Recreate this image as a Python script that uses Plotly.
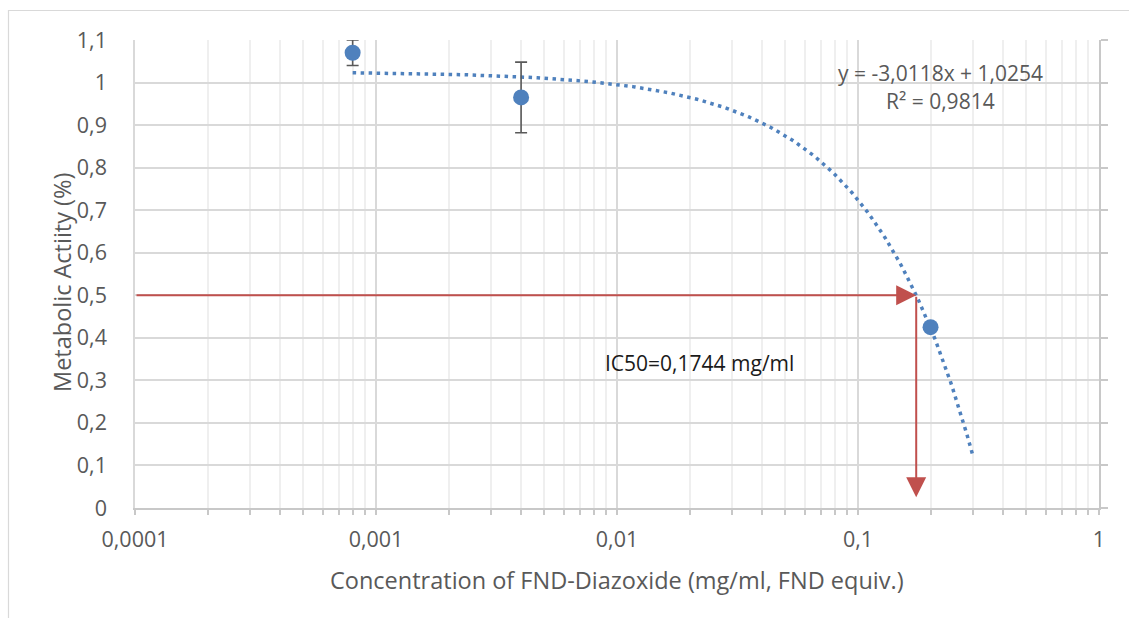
import numpy as np
import plotly.graph_objects as go

# ---- data ----
conc = [0.0008, 0.004, 0.2]           # mg/ml
activity = [1.07, 0.965, 0.425]
err = [0.03, 0.083, 0.0]

slope = -3.0118
intercept = 1.0254
trend_start, trend_end = 0.0008, 0.3

ic50 = 0.1744
ic50_level = 0.5
arrow_bottom = 0.025

y_ticks = [0, 0.1, 0.2, 0.3, 0.4, 0.5, 0.6, 0.7, 0.8, 0.9, 1.0, 1.1]
y_ticktext = ["0", "0,1", "0,2", "0,3", "0,4", "0,5", "0,6", "0,7", "0,8", "0,9", "1", "1,1"]
x_ticks = [0.0001, 0.001, 0.01, 0.1, 1]
x_ticktext = ["0,0001", "0,001", "0,01", "0,1", "1"]
x_minor = [m * d for d in [0.0001, 0.001, 0.01, 0.1] for m in range(2, 10)]

trend_x = np.logspace(np.log10(trend_start), np.log10(trend_end), 300)
trend_y = slope * trend_x + intercept

FONT = "Open Sans"
GRID = "#d9d9d9"
MINOR = "#efefef"
AXIS = "#c8c8c8"
BLUE = "#4F81BD"
RED = "#C0504D"
TXT = "#595959"
TICK_SIZE = 21.5
TITLE_SIZE = 23.5
NOTE_SIZE = 21

fig = go.Figure()
fig.add_trace(go.Scatter(
    x=trend_x, y=trend_y, mode="lines",
    line=dict(color=BLUE, width=3.5, dash="3.5px,4.5px"),
    hoverinfo="skip", showlegend=False))
fig.add_trace(go.Scatter(
    x=conc, y=activity, mode="markers",
    marker=dict(color=BLUE, size=16),
    error_y=dict(type="data", array=err, visible=True, color="#595959",
                 thickness=1.6, width=6),
    showlegend=False))
# helper invisible trace for the right-hand axis
fig.add_trace(go.Scatter(x=[0.001], y=[0.5], yaxis="y2", mode="markers",
                         marker=dict(opacity=0), showlegend=False, hoverinfo="skip"))

fig.update_layout(
    width=1129, height=618,
    margin=dict(l=135, r=30, t=40, b=110),
    paper_bgcolor="white", plot_bgcolor="white",
    font=dict(family=FONT, color=TXT),
    xaxis=dict(
        type="log", range=[-4, 0],
        tickmode="array", tickvals=x_ticks, ticktext=x_ticktext,
        tickfont=dict(size=TICK_SIZE, color=TXT, family=FONT),
        showgrid=True, gridcolor=GRID, gridwidth=1.5,
        showline=True, linecolor=AXIS, linewidth=2,
        ticks="outside", ticklen=5, tickcolor=AXIS, tickwidth=1.5,
        ticklabelstandoff=6,
        zeroline=False,
        minor=dict(tickmode="array", tickvals=x_minor, ticks="outside", ticklen=5,
                   tickcolor=AXIS, tickwidth=1.5,
                   showgrid=True, gridcolor=MINOR, gridwidth=1.5),
    ),
    yaxis=dict(
        range=[0, 1.1],
        tickmode="array", tickvals=y_ticks, ticktext=y_ticktext,
        tickfont=dict(size=TICK_SIZE, color=TXT, family=FONT),
        showgrid=True, gridcolor=GRID, gridwidth=1.5,
        showline=True, linecolor=GRID, linewidth=1.5,
        ticks="", ticklabelstandoff=22, zeroline=False,
    ),
    yaxis2=dict(
        overlaying="y", side="right", anchor="x",
        range=[0, 1.1], tickmode="array", tickvals=y_ticks,
        showticklabels=False, showgrid=False, zeroline=False,
        showline=True, linecolor=AXIS, linewidth=2,
        ticks="outside", ticklen=7, tickcolor=AXIS, tickwidth=1.5,
    ),
    shapes=[dict(type="rect", xref="paper", yref="paper",
                 x0=(8.5 - 135) / 964, x1=(1145 - 135) / 964,
                 y0=(508 - 650) / 468, y1=1 + (40 - 10.5) / 468,
                 line=dict(color="#d9d9d9", width=1.2), layer="below")],
    annotations=[
        dict(x=np.log10(ic50), y=ic50_level, ax=-4, ay=ic50_level,
             xref="x", yref="y", axref="x", ayref="y", text="",
             showarrow=True, arrowhead=2, arrowsize=2.0, arrowwidth=2,
             arrowcolor=RED, standoff=0),
        dict(x=np.log10(ic50), y=arrow_bottom, ax=np.log10(ic50), ay=ic50_level,
             xref="x", yref="y", axref="x", ayref="y", text="",
             showarrow=True, arrowhead=2, arrowsize=2.0, arrowwidth=2,
             arrowcolor=RED, standoff=0),
        dict(x=-1.656, y=0.341, xref="x", yref="y", showarrow=False,
             xanchor="center", yanchor="middle",
             text="IC50=0,1744 mg/ml", font=dict(size=NOTE_SIZE, color="#1a1a1a", family=FONT)),
        dict(x=-0.656, y=1.022, xref="x", yref="y", showarrow=False,
             xanchor="center", yanchor="middle",
             text="y = -3,0118x + 1,0254", font=dict(size=NOTE_SIZE, color=TXT, family=FONT)),
        dict(x=-0.656, y=0.957, xref="x", yref="y", showarrow=False,
             xanchor="center", yanchor="middle",
             text="R² = 0,9814", font=dict(size=NOTE_SIZE, color=TXT, family=FONT)),
        dict(x=0.5, y=(508 - 580) / 468, xref="paper", yref="paper", showarrow=False,
             xanchor="center", yanchor="middle",
             text="Concentration of FND-Diazoxide (mg/ml, FND equiv.)",
             font=dict(size=TITLE_SIZE, color=TXT, family=FONT)),
        dict(x=(62 - 135) / 964, y=(508 - 283) / 468, xref="paper", yref="paper",
             showarrow=False, textangle=-90, xanchor="center", yanchor="middle",
             text="Metabolic Actiity (%)",
             font=dict(size=TITLE_SIZE, color=TXT, family=FONT)),
    ],
)

fig.write_html("out.html")
